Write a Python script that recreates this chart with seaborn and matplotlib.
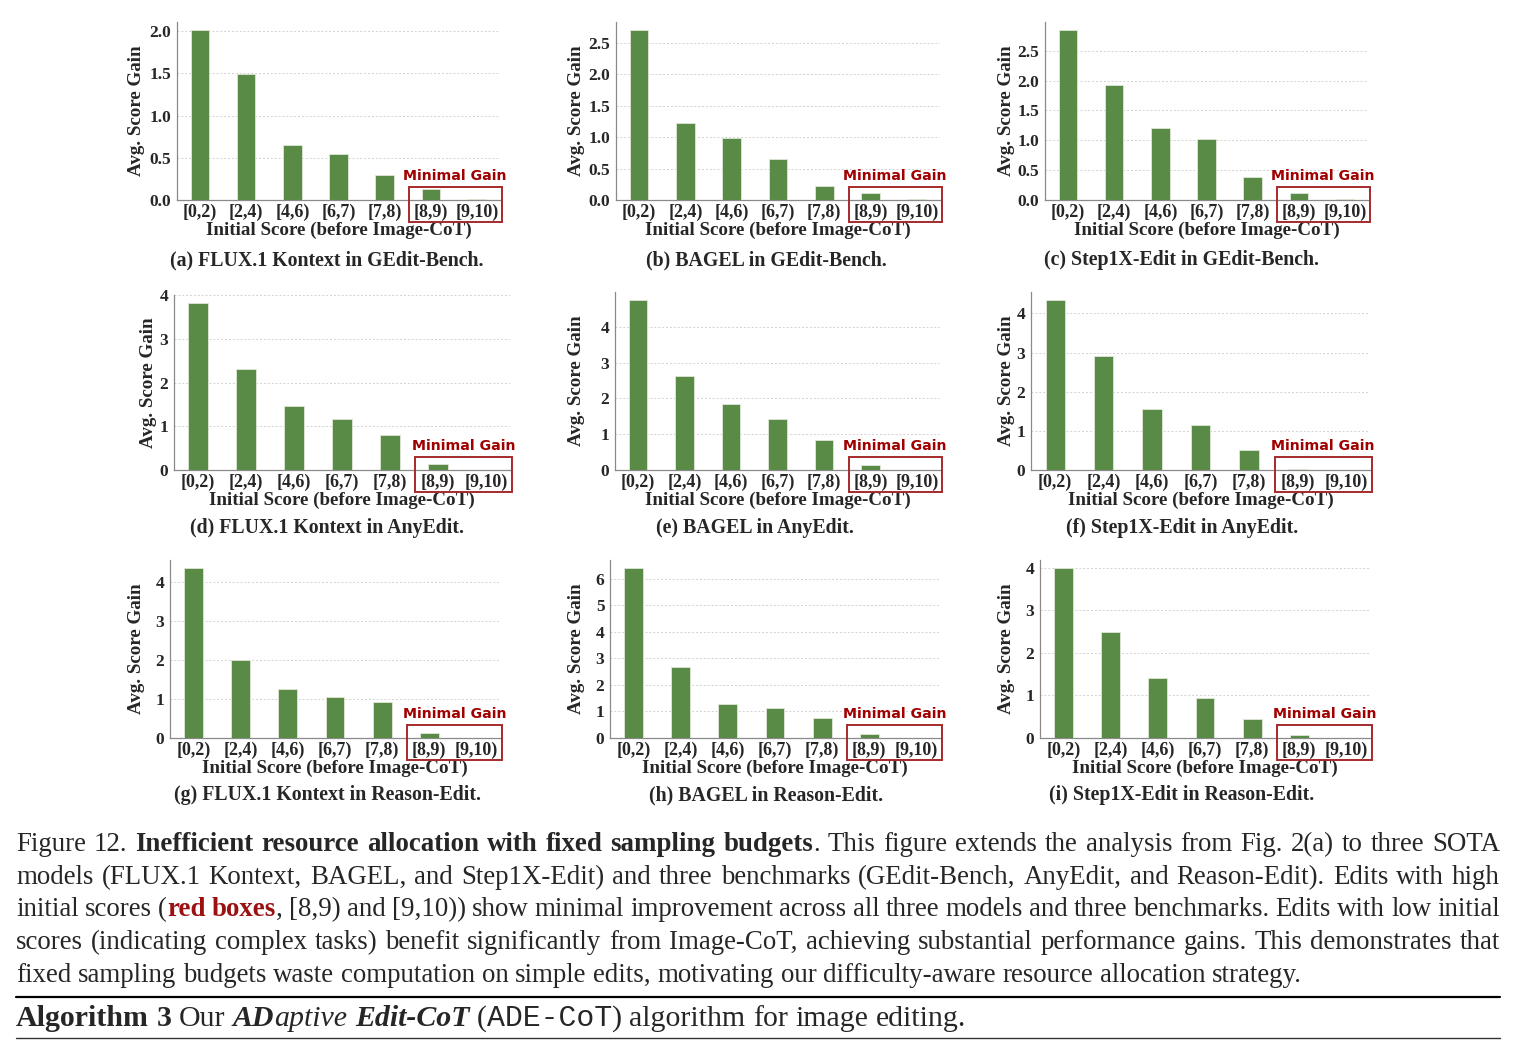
import matplotlib
matplotlib.use("Agg")
import matplotlib.pyplot as plt
import matplotlib.transforms as mtransforms
from matplotlib.patches import Rectangle
from matplotlib.lines import Line2D
import seaborn as sns
import pandas as pd

# ---------------- data ----------------
categories = ["[0,2)", "[2,4)", "[4,6)", "[6,7)", "[7,8)", "[8,9)", "[9,10)"]

flux_gedit     = [2.01, 1.49, 0.65, 0.54, 0.30, 0.13, 0.01]
bagel_gedit    = [2.70, 1.22, 0.99, 0.66, 0.23, 0.11, 0.01]
step1x_gedit   = [2.84, 1.92, 1.20, 1.03, 0.39, 0.11, 0.01]
flux_anyedit   = [3.81, 2.31, 1.46, 1.17, 0.80, 0.13, 0.00]
bagel_anyedit  = [4.74, 2.64, 1.84, 1.43, 0.85, 0.15, 0.00]
step1x_anyedit = [4.33, 2.90, 1.57, 1.16, 0.51, 0.02, 0.01]
flux_reason    = [4.35, 2.01, 1.27, 1.04, 0.92, 0.13, 0.00]
bagel_reason   = [6.38, 2.67, 1.28, 1.12, 0.74, 0.14, 0.00]
step1x_reason  = [3.98, 2.49, 1.40, 0.94, 0.45, 0.08, 0.00]

yticks_gedit_flux = [0.0, 0.5, 1.0, 1.5, 2.0]
yticks_gedit_other = [0.0, 0.5, 1.0, 1.5, 2.0, 2.5]
yticks_int4 = [0, 1, 2, 3, 4]
yticks_int6 = [0, 1, 2, 3, 4, 5, 6]

panel_captions = [
    "(a) FLUX.1 Kontext in GEdit-Bench.",
    "(b) BAGEL in GEdit-Bench.",
    "(c) Step1X-Edit in GEdit-Bench.",
    "(d) FLUX.1 Kontext in AnyEdit.",
    "(e) BAGEL in AnyEdit.",
    "(f) Step1X-Edit in AnyEdit.",
    "(g) FLUX.1 Kontext in Reason-Edit.",
    "(h) BAGEL in Reason-Edit.",
    "(i) Step1X-Edit in Reason-Edit.",
]
panel_values = [flux_gedit, bagel_gedit, step1x_gedit,
                flux_anyedit, bagel_anyedit, step1x_anyedit,
                flux_reason, bagel_reason, step1x_reason]
panel_yticks = [yticks_gedit_flux, yticks_gedit_other, yticks_gedit_other,
                yticks_int4, yticks_int4, yticks_int4,
                yticks_int4, yticks_int6, yticks_int4]
y_fmt = ["{:.1f}"] * 3 + ["{:d}"] * 6

xlabel_text = "Initial Score (before Image-CoT)"
ylabel_text = "Avg. Score Gain"
highlight_text = "Minimal Gain"

# ---------------- style ----------------
sns.set_style("white")
SERIF = "Liberation Serif"
MONO = "Liberation Mono"
plt.rcParams["font.family"] = [SERIF, "DejaVu Serif"]

W, H = 1516, 1049
fig = plt.figure(figsize=(W / 100, H / 100), dpi=100)

BAR = "#5a8b46"
RED = "#a52a2a"

# axes boxes in pixels (left, top, right, bottom)
boxes = [
    (177, 22, 500, 200), (616, 22, 940, 200), (1045, 22, 1368, 200),
    (174, 295, 510, 470), (615, 292, 940, 470), (1031, 292, 1370, 470),
    (170, 560, 500, 738), (610, 560, 940, 738), (1040, 560, 1370, 738),
]
ylabel_center_px = [138, 578, 1008, 150, 578, 1008, 138, 578, 1008]
caption_pos = [
    (327, 260), (766, 260), (1182, 260),
    (327, 528), (755, 528), (1182, 528),
    (327, 795), (766, 795), (1182, 795),
]


def frac_box(l, t, r, b):
    return [l / W, 1 - b / H, (r - l) / W, (b - t) / H]


for i in range(9):
    l, t, r, b = boxes[i]
    ax = fig.add_axes(frac_box(l, t, r, b))
    df = pd.DataFrame({"cat": categories, "val": panel_values[i]})
    sns.barplot(data=df, x="cat", y="val", color=BAR, saturation=1,
                width=0.4, edgecolor="#dfe9d8", linewidth=0.6, ax=ax, zorder=3)
    ax.set_xlim(-0.5, 6.5)
    ax.set_ylim(0, max(panel_values[i]) * 1.05)
    ax.set_yticks(panel_yticks[i])
    ax.set_yticklabels([y_fmt[i].format(v) for v in panel_yticks[i]])
    ax.set_axisbelow(True)
    ax.grid(axis="y", linestyle=(0, (2, 2)), color="#d2d2d2", linewidth=0.7)
    for s in ["top", "right"]:
        ax.spines[s].set_visible(False)
    for s in ["left", "bottom"]:
        ax.spines[s].set_color("#8a8a8a")
        ax.spines[s].set_linewidth(0.9)
    ax.tick_params(axis="x", length=0, labelsize=13, pad=2.5)
    ax.tick_params(axis="y", length=0, labelsize=12.5, pad=4)
    for lab in ax.get_xticklabels() + ax.get_yticklabels():
        lab.set_fontweight("bold")
    ax.set_xlabel(xlabel_text, fontsize=13.7, fontweight="bold")
    ax.set_ylabel(ylabel_text, fontsize=13.7, fontweight="bold")
    hpx = b - t
    wpx = r - l
    ax.xaxis.set_label_coords(0.5, -22 / hpx)
    ax.yaxis.set_label_coords((ylabel_center_px[i] + 7 - l) / wpx, 0.5)

    trans = mtransforms.blended_transform_factory(ax.transData, ax.transAxes)
    ax.add_patch(Rectangle((4.53, -0.125), 2.02, 0.197, transform=trans,
                           fill=False, edgecolor=RED, linewidth=1.4,
                           clip_on=False, zorder=5))
    ax.text(5.53, 0.095, highlight_text, transform=trans, ha="center",
            va="bottom", color="#a00000", fontsize=10.2, fontweight="bold",
            family=["DejaVu Sans"], clip_on=False)

    cx, cy = caption_pos[i]
    fig.text(cx / W, 1 - cy / H, panel_captions[i], ha="center", va="center",
             fontsize=14.3, fontweight="bold")

# ---------------- caption text (justified) ----------------
renderer = fig.canvas.get_renderer()
CAP_SIZE = 19.4
REG = dict(family=[SERIF], fontsize=CAP_SIZE)
BOLD = dict(family=[SERIF], fontsize=CAP_SIZE, fontweight="bold")
BOLD_RED = dict(family=[SERIF], fontsize=CAP_SIZE, fontweight="bold", color="#9b1111")


def text_width(s, props):
    tt = fig.text(0, 0, s, **props)
    w = tt.get_window_extent(renderer).width
    tt.remove()
    return w


def draw_line(runs, x0, x1, y, justify=True):
    tokens = []
    pending = False
    for text, props in runs:
        parts = text.split(" ")
        for j, p in enumerate(parts):
            if j > 0:
                pending = True
            if p:
                tokens.append([p, props, pending and len(tokens) > 0])
                pending = False
    widths = [text_width(tk[0], tk[1]) for tk in tokens]
    nsp = sum(1 for tk in tokens if tk[2])
    if justify and nsp:
        gap = (x1 - x0 - sum(widths)) / nsp
    else:
        props0 = runs[0][1]
        gap = text_width("a a", props0) - text_width("aa", props0)
    x = x0
    for (s, props, sb), w in zip(tokens, widths):
        if sb:
            x += gap
        fig.text(x / W, 1 - y / H, s, ha="left", va="baseline", **props)
        x += w


X0, X1 = 16, 1500
lines = [
    [("Figure 12. ", REG), ("Inefficient resource allocation with fixed sampling budgets", BOLD),
     (". This figure extends the analysis from Fig. 2(a) to three SOTA", REG)],
    [("models (FLUX.1 Kontext, BAGEL, and Step1X-Edit) and three benchmarks (GEdit-Bench, AnyEdit, and Reason-Edit). Edits with high", REG)],
    [("initial scores (", REG), ("red boxes", BOLD_RED),
     (", [8,9) and [9,10)) show minimal improvement across all three models and three benchmarks. Edits with low initial", REG)],
    [("scores (indicating complex tasks) benefit significantly from Image-CoT, achieving substantial performance gains. This demonstrates that", REG)],
    [("fixed sampling budgets waste computation on simple edits, motivating our difficulty-aware resource allocation strategy.", REG)],
]
baselines = [851, 884, 916, 949, 982]
for k, (runs, yb) in enumerate(zip(lines, baselines)):
    draw_line(runs, X0, X1, yb, justify=(k < len(lines) - 1))

# rules
fig.add_artist(Line2D([X0 / W, X1 / W], [1 - 997 / H, 1 - 997 / H],
                      transform=fig.transFigure, color="black", linewidth=1.6))
fig.add_artist(Line2D([X0 / W, X1 / W], [1 - 1038 / H, 1 - 1038 / H],
                      transform=fig.transFigure, color="#333333", linewidth=1.0))

ALG_SIZE = 21.5
A_BOLD = dict(family=[SERIF], fontsize=ALG_SIZE, fontweight="bold")
A_REG = dict(family=[SERIF], fontsize=ALG_SIZE)
A_BI = dict(family=[SERIF], fontsize=ALG_SIZE, fontweight="bold", fontstyle="italic")
A_I = dict(family=[SERIF], fontsize=ALG_SIZE, fontstyle="italic")
A_MONO = dict(family=[MONO], fontsize=ALG_SIZE)

alg_runs = [("Algorithm 3 ", A_BOLD), ("Our ", A_REG), ("AD", A_BI), ("aptive ", A_I),
            ("Edit-CoT ", A_BI), ("(", A_REG), ("ADE-CoT", A_MONO),
            (") algorithm for image editing.", A_REG)]
draw_line(alg_runs, X0, X1, 1026, justify=False)

fig.savefig("out.png", dpi=100)
